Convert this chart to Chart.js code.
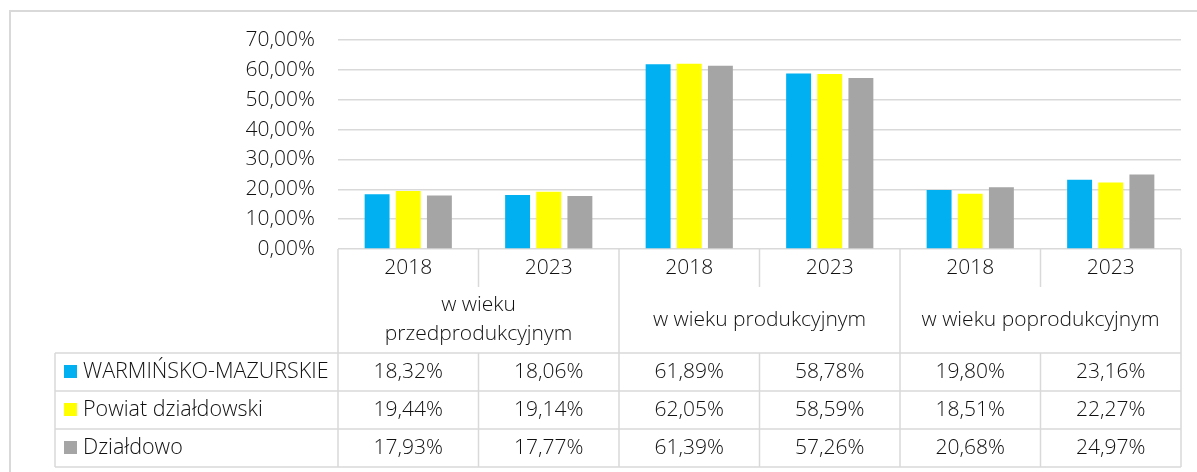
<!DOCTYPE html>
<html>
<head>
<meta charset="utf-8">
<script src="https://cdn.jsdelivr.net/npm/chart.js@4"></script>
<style>
    body { margin: 0; background: #fff; }
    #wrap { width: 1197px; height: 472px; position: relative; }
</style>
</head>
<body>
<div id="wrap"><canvas id="chart"></canvas></div>
<script>
// Data
const categories = ['2018', '2023', '2018', '2023', '2018', '2023'];
const groups = ['w wieku\nprzedprodukcyjnym', 'w wieku produkcyjnym', 'w wieku poprodukcyjnym'];
const seriesNames = ['WARMIŃSKO-MAZURSKIE', 'Powiat działdowski', 'Działdowo'];
const warminskoMazurskie = [18.32, 18.06, 61.89, 58.78, 19.80, 23.16];
const powiatDzialdowski = [19.44, 19.14, 62.05, 58.59, 18.51, 22.27];
const dzialdowo = [17.93, 17.77, 61.39, 57.26, 20.68, 24.97];
const yMin = 0;
const yMax = 70;
const yStep = 10;

const colors = ['#00B0F0', '#FFFF00', '#A5A5A5'];
const gridColor = '#d9d9d9';
const textColor = '#111111';
const fontFamily = "'Open Sans', sans-serif";

function pct(v) {
    return v.toFixed(2).replace('.', ',') + '%';
}

// Draws the data table under the plot, plus the outer chart border
const dataTablePlugin = {
    id: 'dataTable',
    afterDraw(chart) {
        const ctx = chart.ctx;
        const xs = chart.scales.x;
        const area = chart.chartArea;
        const catW = xs.width / categories.length;
        const edge = i => xs.getPixelForValue(0) - catW / 2 + i * catW;

        const top = area.bottom;
        const yearBottom = 287;
        const rowTops = [353, 391, 429, 467];
        const tableLeft = 55;

        ctx.save();
        ctx.strokeStyle = gridColor;
        ctx.lineWidth = 2;
        // outer border (right/bottom fall outside the picture)
        ctx.strokeRect(10, 11, 1300, 600);

        ctx.lineWidth = 1.5;
        ctx.beginPath();
        rowTops.forEach(y => {
            ctx.moveTo(tableLeft, y);
            ctx.lineTo(edge(categories.length), y);
        });
        ctx.moveTo(tableLeft, rowTops[0]);
        ctx.lineTo(tableLeft, rowTops[3]);
        for (let i = 0; i <= categories.length; i++) {
            const x = edge(i);
            if (i % 2 === 0) {
                ctx.moveTo(x, top);
                ctx.lineTo(x, rowTops[3]);
            } else {
                ctx.moveTo(x, top);
                ctx.lineTo(x, yearBottom);
                ctx.moveTo(x, rowTops[0]);
                ctx.lineTo(x, rowTops[3]);
            }
        }
        ctx.stroke();

        ctx.fillStyle = textColor;
        ctx.font = '300 21px ' + fontFamily;
        ctx.textAlign = 'center';
        ctx.textBaseline = 'middle';

        // years
        categories.forEach((c, i) => {
            ctx.fillText(c, xs.getPixelForValue(i), 268);
        });

        // group labels
        groups.forEach((g, i) => {
            const lines = g.split('\n');
            const cx = (edge(i * 2) + edge(i * 2 + 2)) / 2;
            const lh = 29;
            const y0 = 320 - (lines.length - 1) * lh / 2;
            lines.forEach((l, j) => ctx.fillText(l, cx, y0 + j * lh));
        });

        // values
        const series = [warminskoMazurskie, powiatDzialdowski, dzialdowo];
        series.forEach((vals, r) => {
            const cy = (rowTops[r] + rowTops[r + 1]) / 2;
            vals.forEach((v, i) => {
                ctx.fillText(pct(v), xs.getPixelForValue(i), cy);
            });
            // legend key + name
            ctx.fillStyle = colors[r];
            ctx.fillRect(64, cy - 7, 13, 13);
            ctx.fillStyle = textColor;
            ctx.textAlign = 'left';
            ctx.font = '300 21.5px ' + fontFamily;
            ctx.fillText(seriesNames[r], 83, cy);
            ctx.font = '300 21px ' + fontFamily;
            ctx.textAlign = 'center';
        });
        ctx.restore();
    }
};

new Chart(document.getElementById('chart'), {
    type: 'bar',
    data: {
        labels: categories,
        datasets: [
            { label: seriesNames[0], data: warminskoMazurskie, backgroundColor: colors[0] },
            { label: seriesNames[1], data: powiatDzialdowski, backgroundColor: colors[1] },
            { label: seriesNames[2], data: dzialdowo, backgroundColor: colors[2] }
        ]
    },
    options: {
        responsive: true,
        maintainAspectRatio: false,
        animation: false,
        layout: { padding: { top: 40, right: 16, bottom: 223, left: 0 } },
        datasets: {
            bar: { categoryPercentage: 0.665, barPercentage: 0.8, borderWidth: 0 }
        },
        plugins: {
            legend: { display: false },
            tooltip: { enabled: false }
        },
        scales: {
            x: { display: false },
            y: {
                min: yMin,
                max: yMax,
                ticks: {
                    stepSize: yStep,
                    padding: 23,
                    color: textColor,
                    font: { family: fontFamily, size: 21, weight: '300' },
                    callback: v => pct(v)
                },
                grid: { color: gridColor, lineWidth: 1.5, drawTicks: false },
                border: { display: false },
                afterFit: s => { s.width = 338; }
            }
        }
    },
    plugins: [dataTablePlugin]
});
</script>
</body>
</html>
